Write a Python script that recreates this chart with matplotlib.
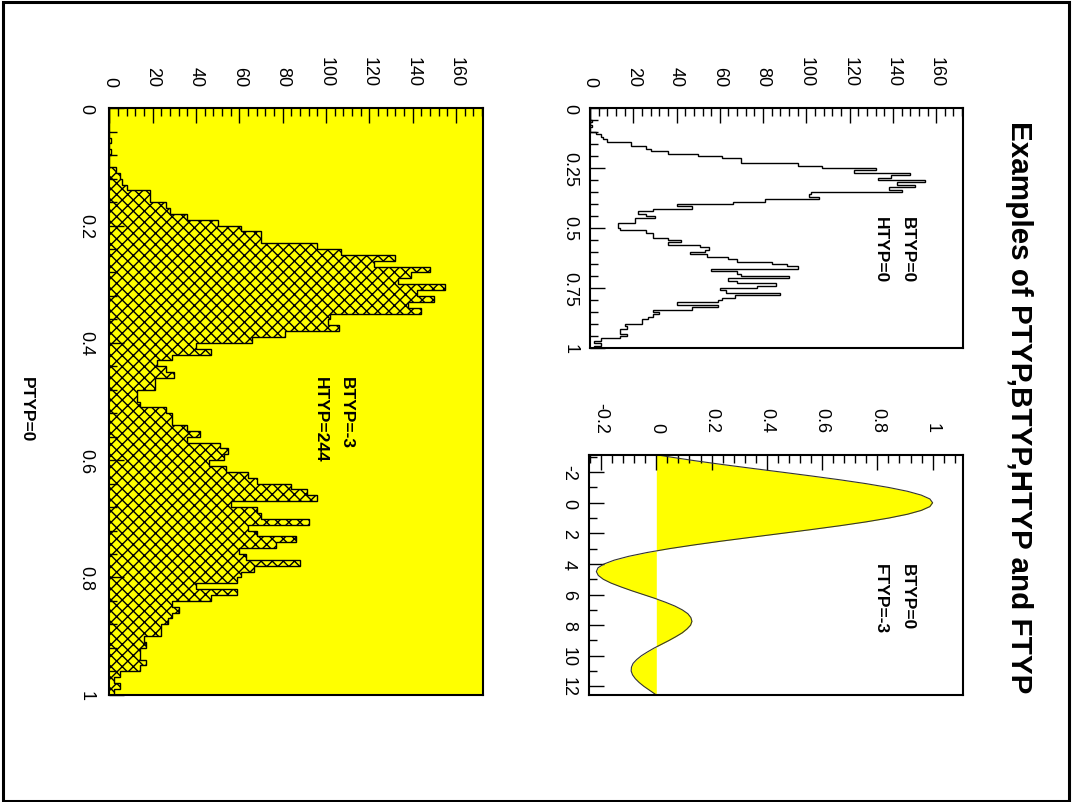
import numpy as np
import matplotlib
matplotlib.use('Agg')
import matplotlib.pyplot as plt
from matplotlib.patches import Rectangle
from matplotlib.ticker import MultipleLocator, FuncFormatter

plt.rcParams['font.family'] = ['Liberation Sans', 'DejaVu Sans']

# histogram: 100 bins on [0, 1], contents
bin_edges = np.linspace(0, 1, 101)
counts = [0, 0, 0, 0, 0, 1, 0, 1, 0, 0,
          3, 5, 6, 8, 19, 19, 26, 28, 36, 50,
          61, 70, 70, 96, 107, 132, 122, 148, 139, 133,
          155, 142, 150, 138, 144, 102, 101, 106, 81, 66,
          40, 47, 29, 22, 26, 30, 21, 21, 13, 13,
          14, 26, 29, 29, 36, 42, 36, 51, 55, 53,
          46, 54, 64, 68, 84, 91, 96, 56, 68, 70,
          92, 64, 68, 86, 77, 60, 63, 88, 67, 61,
          59, 40, 59, 47, 29, 32, 29, 27, 24, 24,
          16, 17, 14, 14, 17, 14, 5, 2, 5, 2]

# function panel points (x, f(x))
fx = [-3.1416, -3.0, -2.75, -2.5, -2.25, -2.0, -1.75, -1.5, -1.25, -1.0,
      -0.75, -0.5, -0.25, 0.0, 0.25, 0.5, 0.75, 1.0, 1.25, 1.5,
      1.75, 2.0, 2.25, 2.5, 2.75, 3.0, 3.25, 3.5, 3.75, 4.0,
      4.25, 4.5, 4.75, 5.0, 5.25, 5.5, 5.75, 6.0, 6.25, 6.5,
      6.75, 7.0, 7.25, 7.5, 7.75, 8.0, 8.25, 8.5, 8.75, 9.0,
      9.25, 9.5, 9.75, 10.0, 10.25, 10.5, 10.75, 11.0, 11.25, 11.5,
      11.75, 12.0, 12.25, 12.5, 12.566]
fy = [0.0, 0.047, 0.139, 0.239, 0.346, 0.455, 0.562, 0.665, 0.759, 0.841,
      0.909, 0.959, 0.990, 1.0, 0.990, 0.959, 0.909, 0.841, 0.759, 0.665,
      0.562, 0.455, 0.346, 0.239, 0.139, 0.047, -0.033, -0.100, -0.152, -0.189,
      -0.211, -0.217, -0.210, -0.192, -0.164, -0.128, -0.089, -0.047, -0.005, 0.033,
      0.067, 0.094, 0.114, 0.125, 0.129, 0.124, 0.111, 0.094, 0.071, 0.046,
      0.019, -0.008, -0.032, -0.054, -0.071, -0.084, -0.090, -0.091, -0.086, -0.076,
      -0.062, -0.045, -0.025, -0.005, 0.0]

title = 'Examples of PTYP,BTYP,HTYP and FTYP'

W, H = 1073, 803
fig = plt.figure(figsize=(W / 100, H / 100), dpi=100)


def box(l, t, r, b):
    return [l / W, 1 - b / H, (r - l) / W, (b - t) / H]


def label(x, y, s, size):
    fig.text(x / W, 1 - y / H, s, rotation=270, rotation_mode='anchor',
             ha='left', va='baseline', fontsize=size, fontweight='bold')


fmt = FuncFormatter(lambda v, p: '%g' % round(v, 6))


def style(ax, xticks, xminor, yticks, yminor, ypad):
    ax.set_xticks(xticks)
    ax.set_yticks(yticks)
    ax.xaxis.set_minor_locator(MultipleLocator(xminor))
    ax.yaxis.set_minor_locator(MultipleLocator(yminor))
    ax.xaxis.set_major_formatter(fmt)
    ax.yaxis.set_major_formatter(fmt)
    ax.tick_params(which='both', direction='in', top=True, bottom=False,
                   left=True, right=False, labeltop=True, labelbottom=False,
                   labelsize=13, width=1)
    ax.tick_params(which='major', length=11)
    ax.tick_params(which='minor', length=5.5)
    ax.tick_params(axis='x', pad=16)
    ax.tick_params(axis='y', pad=ypad)
    for s in ax.spines.values():
        s.set_linewidth(1.5)
    plt.setp(ax.get_xticklabels(), rotation=270, ha='center', va='bottom')
    plt.setp(ax.get_yticklabels(), rotation=270, ha='right', va='center')


# small histogram, outline only
ax1 = fig.add_axes(box(590, 109, 963, 349))
ax1.stairs(counts, bin_edges, orientation='horizontal', color='black', lw=1)
ax1.set_xlim(0, 172.4)
ax1.set_ylim(1, 0)
style(ax1, range(0, 161, 20), 4, [0, 0.25, 0.5, 0.75, 1], 0.05, 8.5)

# function panel
ax2 = fig.add_axes(box(589.3, 455.7, 963, 696))
ax2.fill_betweenx(fx, 0, fy, color='yellow', lw=0)
ax2.plot(fy, fx, color='#333333', lw=0.8)
ax2.set_xlim(-0.2425, 1.11)
ax2.set_ylim(12.566, -3.1416)
style(ax2, [-0.2, 0, 0.2, 0.4, 0.6, 0.8, 1.0], 0.04, range(-2, 13, 2), 1, 9)

# big histogram, hatched on yellow
ax3 = fig.add_axes(box(109.3, 109.3, 482.7, 695.7))
ax3.set_facecolor('yellow')
ax3.stairs(counts, bin_edges, orientation='horizontal', fill=True,
           facecolor='yellow', edgecolor='black', hatch='xxx', lw=1)
ax3.set_xlim(0, 172.3)
ax3.set_ylim(1, 0)
style(ax3, range(0, 161, 20), 4, [0, 0.2, 0.4, 0.6, 0.8, 1], 0.04, 10.5)

label(1010.7, 120.7, title, 21.3)
label(903.3, 217.3, 'BTYP=0', 12.5)
label(876, 217.3, 'HTYP=0', 12.5)
label(902.7, 564, 'BTYP=0', 12.5)
label(876, 564, 'FTYP=-3', 12.5)
label(341.7, 376.7, 'BTYP=-3', 12.5)
label(315.7, 376.7, 'HTYP=244', 12.5)
label(21.7, 376.7, 'PTYP=0', 12.5)

fig.add_artist(Rectangle((2.5 / W, 1 - 801.8 / H), 1066.3 / W, 799 / H,
                         transform=fig.transFigure, fill=False,
                         lw=2.2, ec='black'))

fig.savefig('out.png', dpi=100)
